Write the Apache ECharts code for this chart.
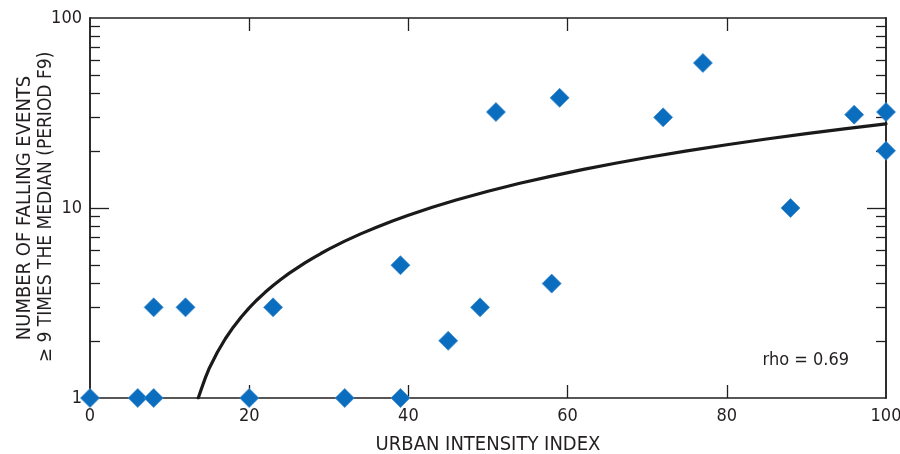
<!DOCTYPE html>
<html>
<head>
<meta charset="utf-8">
<script src="https://cdn.jsdelivr.net/npm/echarts@6/dist/echarts.min.js"></script>
<style>
  html, body { margin: 0; padding: 0; background: #fff; }
  #chart { width: 900px; height: 454px; }
</style>
</head>
<body>
<div id="chart"></div>
<script>
// Urban intensity index vs. count of falling events (period F9)
const urbanIndex = [0, 6, 8, 8, 12, 20, 23, 32, 39, 39, 45, 49, 51, 58, 59, 72, 77, 88, 96, 100, 100];
const fallingEvents = [1, 1, 1, 3, 3, 1, 3, 1, 1, 5, 2, 3, 32, 4, 38, 30, 58, 10, 31, 32, 20];

// Fitted trend line, sampled along the index
const trendX = [13.6, 14, 14.5, 15, 16, 17, 18, 19, 20, 21, 22, 23, 24, 25, 26, 27, 28, 29, 30, 32, 34, 36, 38, 40, 43, 46, 50, 54, 58, 62, 66, 70, 75, 80, 85, 90, 95, 100];
const trendY = [1.0, 1.12, 1.28, 1.44, 1.74, 2.05, 2.36, 2.67, 2.98, 3.29, 3.6, 3.91, 4.22, 4.53, 4.83, 5.14, 5.45, 5.76, 6.07, 6.69, 7.31, 7.92, 8.54, 9.16, 10.09, 11.01, 12.25, 13.49, 14.72, 15.96, 17.19, 18.43, 19.98, 21.52, 23.07, 24.61, 26.16, 27.7];

const xTicks = [0, 20, 40, 60, 80, 100];
const yMajorTicks = [1, 10, 100];
const yMinorTicks = [2, 3, 4, 5, 6, 7, 8, 9, 20, 30, 40, 50, 60, 70, 80, 90];

const FONT = "'Liberation Sans Narrow', 'DejaVu Sans Condensed', 'Roboto', sans-serif";
const INK = '#231f20';

const chart = echarts.init(document.getElementById('chart'));

function logAxis(position, ticks, len, showLabels) {
  return {
    type: 'log', logBase: 10, min: 1, max: 100, position: position,
    axisLine: { show: true, lineStyle: { color: INK, width: 1.5 } },
    axisTick: { show: true, inside: true, length: len, customValues: ticks,
                lineStyle: { color: INK, width: 1.3 } },
    axisLabel: { show: showLabels, customValues: yMajorTicks, margin: 8,
                 fontFamily: FONT, fontSize: 18, color: INK },
    splitLine: { show: false }, minorTick: { show: false }
  };
}

const option = {
  backgroundColor: '#fff',
  animation: false,
  grid: { left: 90, right: 14, top: 18, bottom: 56, containLabel: false, outerBoundsMode: 'none' },
  xAxis: [
    {
      type: 'value', min: 0, max: 100, interval: 20, position: 'bottom',
      name: 'URBAN INTENSITY INDEX', nameLocation: 'middle', nameGap: 37,
      nameTextStyle: { fontFamily: FONT, fontSize: 20, color: INK },
      axisLine: { show: true, lineStyle: { color: INK, width: 1.5 } },
      axisTick: { show: true, inside: true, length: 13, customValues: xTicks.slice(1, -1),
                  lineStyle: { color: INK, width: 1.3 } },
      axisLabel: { fontFamily: FONT, fontSize: 18, color: INK, margin: 9, customValues: xTicks },
      splitLine: { show: false }
    },
    {
      type: 'value', min: 0, max: 100, interval: 20, position: 'top',
      axisLine: { show: true, lineStyle: { color: INK, width: 1.5 } },
      axisTick: { show: true, inside: true, length: 13, customValues: xTicks.slice(1, -1),
                  lineStyle: { color: INK, width: 1.3 } },
      axisLabel: { show: false },
      splitLine: { show: false }
    }
  ],
  yAxis: [
    logAxis('left', yMajorTicks.slice(1, 2), 19, true),
    logAxis('left', yMinorTicks, 10, false),
    logAxis('right', yMajorTicks.slice(1, 2), 19, false),
    logAxis('right', yMinorTicks, 10, false)
  ],
  graphic: [
    {
      type: 'text',
      style: { text: 'NUMBER OF FALLING EVENTS', font: '20px ' + FONT, fill: INK,
               align: 'center', verticalAlign: 'middle' },
      x: 25, y: 208, rotation: Math.PI / 2
    },
    {
      type: 'text',
      style: { text: '\u2265 9 TIMES THE MEDIAN (PERIOD F9)', font: '19px ' + FONT, fill: INK,
               align: 'center', verticalAlign: 'middle' },
      x: 46, y: 207, rotation: Math.PI / 2
    },
    {
      type: 'text',
      style: { text: 'rho = 0.69', font: '18px ' + FONT, fill: INK,
               align: 'right', verticalAlign: 'middle' },
      x: 849, y: 360
    }
  ],
  series: [
    {
      type: 'line', xAxisIndex: 0, yAxisIndex: 0,
      data: trendX.map((x, i) => [x, trendY[i]]),
      showSymbol: false, symbol: 'none', smooth: false,
      lineStyle: { color: '#1a1a1a', width: 3.2, join: 'round', cap: 'round' },
      z: 2, silent: true
    },
    {
      type: 'scatter', xAxisIndex: 0, yAxisIndex: 0,
      data: urbanIndex.map((x, i) => [x, fallingEvents[i]]),
      symbol: 'diamond', symbolSize: 19,
      itemStyle: { color: '#0b6dbd', borderColor: '#3d8bd0', borderWidth: 0.8, opacity: 1 },
      z: 3, clip: false
    }
  ]
};

chart.setOption(option);
</script>
</body>
</html>
